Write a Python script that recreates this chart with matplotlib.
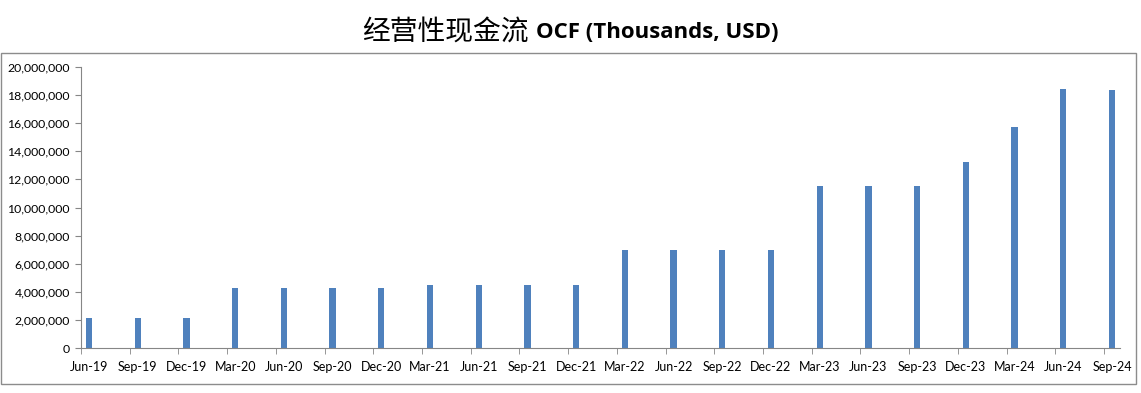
import matplotlib.pyplot as plt
import matplotlib.ticker as mticker
from matplotlib.patches import Rectangle
import numpy as np

quarters = ["Jun-19", "Sep-19", "Dec-19", "Mar-20", "Jun-20", "Sep-20", "Dec-20",
            "Mar-21", "Jun-21", "Sep-21", "Dec-21", "Mar-22", "Jun-22", "Sep-22",
            "Dec-22", "Mar-23", "Jun-23", "Sep-23", "Dec-23", "Mar-24", "Jun-24", "Sep-24"]
ocf = [2100000, 2100000, 2100000, 4300000, 4300000, 4300000, 4300000,
       4500000, 4500000, 4500000, 4500000, 7000000, 7000000, 7000000,
       7000000, 11500000, 11500000, 11500000, 13250000, 15750000, 18450000, 18380000]
yticks = np.arange(0, 20000001, 2000000)

plt.rcParams['font.family'] = ['Lato', 'DejaVu Sans']

fig = plt.figure(figsize=(11.41, 3.93), dpi=100)
ax = fig.add_axes([0.071, 0.1145, 0.9106, 0.715])

x = np.arange(len(quarters))
ax.bar(x, ocf, width=0.13, color='#4F81BD')

off = 0.165
ax.set_xlim(-off, len(quarters) - 1 + off)
ax.set_ylim(0, 20000000)

ax.set_xticks(x)
ax.set_xticklabels(quarters, fontsize=9)
ax.tick_params(axis='x', which='major', length=0, pad=9)
ax.set_xticks(x - off, minor=True)
ax.tick_params(axis='x', which='minor', length=4, color='#868686', direction='out')

ax.set_yticks(yticks)
ax.yaxis.set_major_formatter(mticker.FuncFormatter(lambda v, p: f"{int(v):,}"))
ax.tick_params(axis='y', length=4, color='#868686', labelsize=8.8, pad=4)

for s in ['top', 'right']:
    ax.spines[s].set_visible(False)
for s in ['left', 'bottom']:
    ax.spines[s].set_color('#868686')

fig.patches.append(Rectangle((1 / 1141, 0.0229), 1135 / 1141, 331 / 393,
                             transform=fig.transFigure, fill=False,
                             edgecolor='#8C8C8C', linewidth=1))

fig.text(529 / 1141, 1 - 32 / 393, "经营性现金流", ha='right', va='center',
         fontsize=20, family=['Noto Sans CJK SC', 'DejaVu Sans'])
fig.text(536 / 1141, 1 - 32 / 393, "OCF (Thousands, USD)", ha='left', va='center',
         fontsize=16, fontweight='bold', family=['Open Sans', 'DejaVu Sans'])

plt.savefig("out.png", dpi=100)
